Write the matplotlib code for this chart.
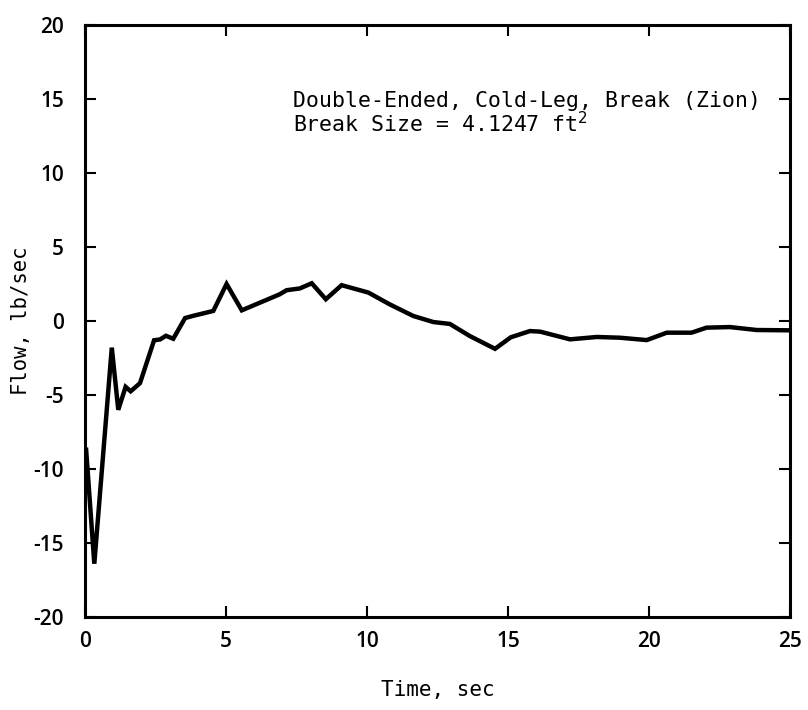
import matplotlib
matplotlib.use("Agg")
import matplotlib.pyplot as plt

plt.rcParams["axes.unicode_minus"] = False

time_s = [0.04, 0.33, 0.95, 1.18, 1.44, 1.62, 1.95, 2.45, 2.66, 2.87, 3.13, 3.55, 3.84,
          4.55, 5.02, 5.56, 6.9, 7.15, 7.62, 8.04, 8.54, 9.1, 10.05, 10.8, 11.64, 12.35,
          12.94, 13.65, 14.54, 15.1, 15.78, 16.14, 17.2, 18.15, 18.97, 19.92, 20.63,
          21.51, 22.04, 22.87, 23.82, 25.0]
flow = [-8.7, -16.4, -1.8, -6.0, -4.45, -4.75, -4.2, -1.3, -1.25, -1.0, -1.2, 0.2, 0.35,
        0.68, 2.5, 0.72, 1.8, 2.08, 2.2, 2.55, 1.47, 2.42, 1.92, 1.13, 0.34, -0.07,
        -0.2, -1.02, -1.88, -1.1, -0.68, -0.72, -1.24, -1.08, -1.13, -1.29, -0.79,
        -0.79, -0.45, -0.41, -0.61, -0.63]
xticks = [0, 5, 10, 15, 20, 25]
yticks = [-20, -15, -10, -5, 0, 5, 10, 15, 20]
annotation = "Double-Ended, Cold-Leg, Break (Zion)\nBreak Size = 4.1247 ft$^2$"

fig = plt.figure(figsize=(8.08, 7.10), dpi=100)
ax = fig.add_axes([0.1052, 0.131, 0.8725, 0.8338])
ax.plot(time_s, flow, color="black", lw=3.2, solid_joinstyle="miter")
ax.set_xlim(0, 25)
ax.set_ylim(-20, 20)
ax.set_xticks(xticks)
ax.set_yticks(yticks)
ax.tick_params(direction="in", length=8, width=1.5, top=True, right=True,
               labelsize=15)
ax.tick_params(axis="x", pad=10)
ax.tick_params(axis="y", pad=15)
for lab in ax.get_xticklabels() + ax.get_yticklabels():
    lab.set_fontweight("semibold")
    lab.set_family(["Open Sans", "DejaVu Sans"])
for s in ax.spines.values():
    s.set_linewidth(2.2)
ax.set_xlabel("Time, sec", family="DejaVu Sans Mono", fontsize=15, labelpad=20)
ax.set_ylabel("Flow, lb/sec", family="DejaVu Sans Mono", fontsize=14.8, labelpad=2)
ax.text(0.295, 0.888, annotation, transform=ax.transAxes, family="DejaVu Sans Mono",
        fontsize=15.5, va="top", ha="left", linespacing=1.0)
fig.savefig("out.png", dpi=100)
